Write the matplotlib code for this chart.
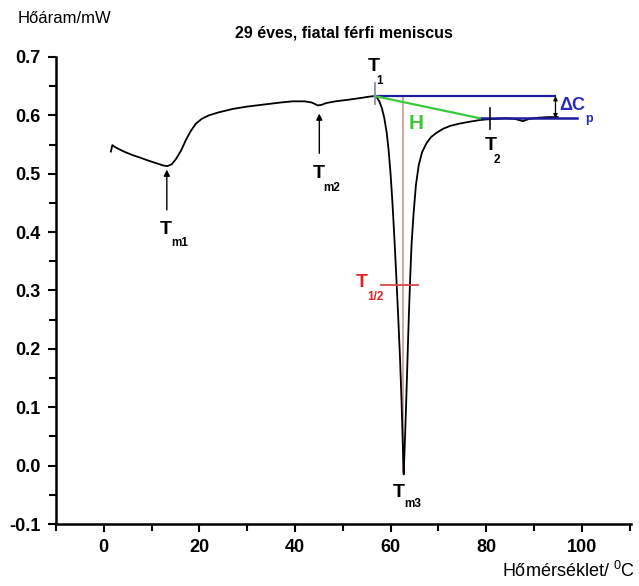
import numpy as np
import matplotlib
matplotlib.use("Agg")
import matplotlib.pyplot as plt
from matplotlib.ticker import MultipleLocator

plt.rcParams['font.family'] = ['Liberation Sans', 'DejaVu Sans']
plt.rcParams['mathtext.fontset'] = 'custom'
plt.rcParams['mathtext.rm'] = 'Liberation Sans'
plt.rcParams['mathtext.bf'] = 'Liberation Sans:bold'

# ── DSC görbe (leolvasott pontok) ──
temp = [1.5, 1.8, 2.3, 3.2, 4.5, 6.0, 7.8, 9.5, 11.0, 12.5, 13.3, 14.2, 15.1,
        16.2, 17.2, 18.2, 19.3, 20.5, 22.0, 24.0, 27.0, 30.0, 34.0, 37.0,
        39.5, 42.0, 43.5, 44.8, 45.6, 46.5, 48.5, 51.4, 54.0, 55.5, 56.7,
        57.2, 57.7, 58.2, 58.7, 59.2, 59.6, 60.0, 60.4, 60.8, 61.2, 61.6,
        62.0, 62.3, 62.55, 62.75, 62.95, 63.2, 63.5, 63.8, 64.1, 64.4, 64.8,
        65.3, 65.9, 66.6, 67.5, 68.5, 69.6, 71.0, 72.5, 74.5, 76.5, 78.7,
        80.0, 82.0, 84.0, 86.0, 87.7, 89.0, 91.0, 93.0, 95.0]
heat = [0.538, 0.549, 0.546, 0.542, 0.537, 0.532, 0.527, 0.522, 0.518, 0.514,
        0.513, 0.516, 0.525, 0.540, 0.558, 0.573, 0.586, 0.594, 0.600, 0.605,
        0.611, 0.615, 0.619, 0.622, 0.624, 0.624, 0.622, 0.617, 0.618, 0.621,
        0.624, 0.627, 0.630, 0.632, 0.633,
        0.630, 0.623, 0.612, 0.595, 0.570, 0.540, 0.500, 0.450, 0.390, 0.325,
        0.255, 0.180, 0.110, 0.040, -0.015, 0.030, 0.090, 0.170, 0.250, 0.320,
        0.380, 0.430, 0.480, 0.515, 0.537, 0.552, 0.563, 0.570, 0.577, 0.582,
        0.586, 0.589, 0.592, 0.593, 0.594, 0.595, 0.594, 0.590, 0.594, 0.596,
        0.597, 0.597]

# jellemző pontok
T1 = (56.7, 0.633)
T2 = (78.7, 0.595)
T2_tick = 80.9
T_half = (62.5, 0.31)
T_half_span = (58.1, 65.8)
peak_min = -0.015
base_hi_end = 94.3
base_lo_end = 99.0
Tm1 = (13.2, 0.507)
Tm2 = (45.1, 0.603)

fig = plt.figure(figsize=(6.39, 5.86), dpi=100)
ax = fig.add_axes([0.0875, 0.1058, 0.9, 0.797])

ax.plot(temp, heat, color='black', lw=1.3, zorder=3)

# alapvonalak
ax.plot([T1[0], base_hi_end], [T1[1], T1[1]], color='#1c1c9c', lw=1.6, zorder=4)
ax.plot([T2[0], base_lo_end], [T2[1], T2[1]], color='#1c1c9c', lw=1.8, zorder=4)
ax.plot([T1[0], T2[0]], [T1[1], T2[1]], color='#3ac83a', lw=1.6, zorder=4)
ax.plot([T_half[0], T_half[0]], [T1[1], peak_min + 0.005], color='#d6a4a4', lw=1.4, zorder=2)
ax.plot(list(T_half_span), [T_half[1], T_half[1]], color='#d84a4a', lw=1.3, zorder=4)
ax.plot([T1[0], T1[0]], [0.62, 0.656], color='#9090aa', lw=1.3, zorder=5)
ax.plot([T2_tick, T2_tick], [0.577, 0.612], color='#111111', lw=1.2, zorder=5)

# ΔCp nyíl
ax.annotate('', xy=(94.5, T1[1]), xytext=(94.5, T2[1]),
            arrowprops=dict(arrowstyle='<|-|>', color='black', lw=0.9,
                            mutation_scale=6, shrinkA=0, shrinkB=0))

# Tm nyilak
ax.annotate('', xy=Tm1, xytext=(Tm1[0], 0.438),
            arrowprops=dict(arrowstyle='-|>', color='black', lw=1.0,
                            mutation_scale=9, shrinkA=0, shrinkB=0))
ax.annotate('', xy=Tm2, xytext=(Tm2[0], 0.535),
            arrowprops=dict(arrowstyle='-|>', color='black', lw=1.0,
                            mutation_scale=9, shrinkA=0, shrinkB=0))


def lbl(x, y, main, sub, color='black', size=14, dx=0.0, dy=-0.024, subsize=8.5):
    ax.text(x, y, main, color=color, fontsize=size, fontweight='bold',
            ha='center', va='center', zorder=6)
    ax.text(x + dx, y + dy, sub, color=color, fontsize=subsize, fontweight='bold',
            ha='left', va='center', zorder=6)


lbl(13.0, 0.405, 'T', 'm1', dx=1.1)
lbl(44.9, 0.500, 'T', 'm2', dx=1.1)
lbl(61.8, -0.046, 'T', 'm3', dx=1.1, dy=-0.02)
lbl(56.4, 0.683, 'T', '1', dx=0.7)
lbl(80.9, 0.548, 'T', '2', dx=0.7)
lbl(54.0, 0.313, 'T', '1/2', color='#e02424', dx=1.1)
ax.text(65.4, 0.586, 'H', color='#3ac83a', fontsize=15, fontweight='bold',
        ha='center', va='center', zorder=6)
ax.text(95.3, 0.617, 'ΔC', color='#2a2ac0', fontsize=13, fontweight='bold',
        ha='left', va='center', zorder=6)
ax.text(100.8, 0.594, 'p', color='#2a2ac0', fontsize=9, fontweight='bold',
        ha='left', va='center', zorder=6)

ax.set_xlim(-10, 110.3)
ax.set_ylim(-0.1, 0.7)
ax.xaxis.set_major_locator(MultipleLocator(20))
ax.xaxis.set_minor_locator(MultipleLocator(10))
ax.yaxis.set_minor_locator(MultipleLocator(0.05))
ax.set_xticks([0, 20, 40, 60, 80, 100])
yt = np.round(np.arange(-0.1, 0.71, 0.1), 1)
ax.set_yticks(yt)
ax.set_yticklabels([f'{v:.1f}' for v in yt])

for s in ['top', 'right']:
    ax.spines[s].set_visible(False)
for s in ['left', 'bottom']:
    ax.spines[s].set_linewidth(1.8)
ax.tick_params(which='both', direction='out', width=1.5)
ax.tick_params(which='major', length=6, labelsize=13, pad=5)
ax.tick_params(which='minor', length=5)
for t in ax.get_xticklabels() + ax.get_yticklabels():
    t.set_fontweight('bold')

ax.set_title('29 éves, fiatal férfi meniscus', fontsize=11.5, fontweight='bold', pad=14)
fig.text(0.027, 0.968, 'Hőáram/mW', fontsize=12, ha='left', va='center')
fig.text(0.994, 0.025, 'Hőmérséklet/ $^{0}$C', fontsize=13, ha='right', va='center')

fig.savefig('out.png', dpi=100)
